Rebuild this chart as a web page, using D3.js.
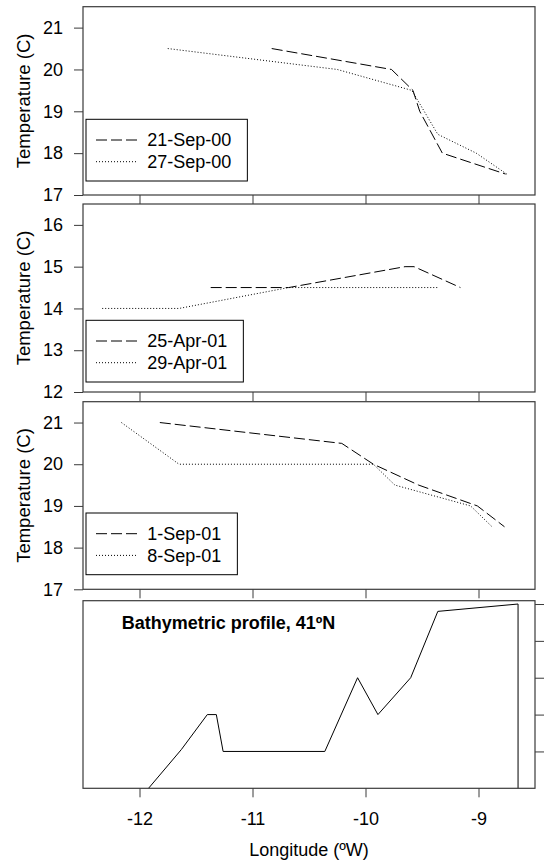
<!DOCTYPE html>
<html><head><meta charset="utf-8">
<script src="https://cdn.jsdelivr.net/npm/d3@7"></script>
<style>
body{margin:0;background:#fff}
svg{display:block}
text{font-family:"Liberation Sans",Arial,Helvetica,sans-serif;fill:#000}
</style>
</head><body>
<svg id="c" width="545" height="863"></svg>
<script>
// ---------- data ----------
const lonTicks = [-12, -11, -10, -9];
const tempTicksSep = [17, 18, 19, 20, 21];
const tempTicksApr = [12, 13, 14, 15, 16];
const depthTicks = [0, -1000, -2000, -3000, -4000];

const sep21_00_lon = [-10.83, -9.77, -9.58, -9.52, -9.32, -8.76];
const sep21_00_t   = [20.5, 20.0, 19.5, 19.0, 18.0, 17.5];
const sep27_00_lon = [-11.75, -10.25, -9.59, -9.36, -9.02, -8.75];
const sep27_00_t   = [20.5, 20.0, 19.5, 18.45, 18.0, 17.5];

const apr25_01_lon = [-11.37, -10.68, -9.65, -9.57, -9.16];
const apr25_01_t   = [14.5, 14.5, 15.0, 15.0, 14.5];
const apr29_01_lon = [-12.33, -11.65, -10.68, -9.36];
const apr29_01_t   = [14.0, 14.0, 14.5, 14.5];

const sep1_01_lon = [-11.82, -10.21, -9.93, -9.53, -9.01, -8.77];
const sep1_01_t   = [21.0, 20.5, 20.0, 19.5, 19.0, 18.5];
const sep8_01_lon = [-12.16, -11.65, -9.93, -9.74, -9.07, -8.88];
const sep8_01_t   = [21.0, 20.0, 20.0, 19.5, 19.0, 18.5];

const bathy_lon   = [-11.92, -11.63, -11.40, -11.32, -11.26, -10.36, -10.07, -9.89, -9.60, -9.36, -8.65, -8.65];
const bathy_depth = [-5000, -3950, -3000, -3000, -4000, -4000, -2000, -3000, -2000, -200, 0, -5000];

const legendLabels = [["21-Sep-00", "27-Sep-00"], ["25-Apr-01", "29-Apr-01"], ["1-Sep-01", "8-Sep-01"]];

// ---------- layout ----------
const svg = d3.select("#c");
const L = 83, R = 535;
const FS = 18;
const x = d3.scaleLinear().domain([-12.5, -8.5]).range([L, R]);
const zip = (a, b) => a.map((v, i) => [v, b[i]]);

const panels = [
  {top: 6.7, bottom: 195, dom: [17, 21.5], ticks: tempTicksSep,
   series: [zip(sep21_00_lon, sep21_00_t), zip(sep27_00_lon, sep27_00_t)],
   legend: {top: 119.3, labels: legendLabels[0]}},
  {top: 204, bottom: 392, dom: [12, 16.5], ticks: tempTicksApr,
   series: [zip(apr25_01_lon, apr25_01_t), zip(apr29_01_lon, apr29_01_t)],
   legend: {top: 320.3, labels: legendLabels[1]}},
  {top: 401.7, bottom: 589.3, dom: [17, 21.5], ticks: tempTicksSep,
   series: [zip(sep1_01_lon, sep1_01_t), zip(sep8_01_lon, sep8_01_t)],
   legend: {top: 513, labels: legendLabels[2]}}
];
const styles = [{dash: "11,4"}, {dash: "1,2"}];
const frameColor = "#3a3a3a";

function xTicks(g, bottom, labels) {
  const ax = d3.axisBottom(x).tickValues(lonTicks).tickSize(9).tickPadding(14.5)
    .tickFormat(labels ? (d => String(d)) : "");
  const a = g.append("g").attr("transform", `translate(0,${bottom})`).call(ax);
  a.select(".domain").remove();
  a.selectAll("line").attr("stroke", frameColor);
  a.selectAll("text").attr("font-size", FS).attr("font-family", null);
}

panels.forEach(p => {
  const g = svg.append("g");
  const y = d3.scaleLinear().domain(p.dom).range([p.bottom, p.top]);
  const ay = d3.axisLeft(y).tickValues(p.ticks).tickSize(9).tickPadding(11).tickFormat(d => String(d));
  const a = g.append("g").attr("transform", `translate(${L},0)`).call(ay);
  a.select(".domain").remove();
  a.selectAll("line").attr("stroke", frameColor);
  a.selectAll("text").attr("font-size", FS).attr("font-family", null);
  xTicks(g, p.bottom, false);

  const line = d3.line().x(d => x(d[0])).y(d => y(d[1]));
  p.series.forEach((s, i) => {
    g.append("path").attr("d", line(s)).attr("fill", "none")
      .attr("stroke", "#000").attr("stroke-width", 1).attr("stroke-dasharray", styles[i].dash);
  });

  g.append("rect").attr("x", L).attr("y", p.top).attr("width", R - L).attr("height", p.bottom - p.top)
    .attr("fill", "none").attr("stroke", frameColor).attr("stroke-width", 1.2);

  g.append("text").attr("transform", `translate(24,${(p.top + p.bottom) / 2}) rotate(-90)`)
    .attr("text-anchor", "middle").attr("dy", "0.35em").attr("font-size", 18.5).text("Temperature (C)");

  // legend
  const lg = g.append("g");
  const bx = 86, by = p.legend.top, bh = 61.7;
  const box = lg.append("rect").attr("x", bx).attr("y", by).attr("height", bh)
    .attr("fill", "#fff").attr("stroke", "#000").attr("stroke-width", 1);
  let maxW = 0;
  p.legend.labels.forEach((lab, i) => {
    const ry = by + 20.7 + i * 21.7;
    lg.append("line").attr("x1", 96).attr("x2", 137.3).attr("y1", ry).attr("y2", ry)
      .attr("stroke", "#000").attr("stroke-dasharray", styles[i].dash);
    const t = lg.append("text").attr("x", 147.3).attr("y", ry).attr("dy", "0.35em")
      .attr("font-size", FS).text(lab);
    maxW = Math.max(maxW, t.node().getComputedTextLength());
  });
  box.attr("width", 147.3 + maxW + 16 - bx);
});

// bathymetry panel
{
  const top = 600.7, bottom = 788.3;
  const g = svg.append("g");
  const y = d3.scaleLinear().domain([-5000, 90]).range([bottom, top]);
  const line = d3.line().x(d => x(d[0])).y(d => y(d[1]));
  g.append("path").attr("d", line(zip(bathy_lon, bathy_depth))).attr("fill", "none")
    .attr("stroke", "#000").attr("stroke-width", 1);
  g.append("rect").attr("x", L).attr("y", top).attr("width", R - L).attr("height", bottom - top)
    .attr("fill", "none").attr("stroke", frameColor).attr("stroke-width", 1.2);
  const ar = d3.axisRight(y).tickValues(depthTicks).tickSize(9).tickFormat("");
  const a = g.append("g").attr("transform", `translate(${R},0)`).call(ar);
  a.select(".domain").remove();
  a.selectAll("line").attr("stroke", frameColor);
  xTicks(g, bottom, true);
  g.append("text").attr("x", 121.7).attr("y", 622.7).attr("dy", "0.35em")
    .attr("font-size", FS).attr("font-weight", "bold").text("Bathymetric profile, 41ºN");
  g.append("text").attr("x", (L + R) / 2).attr("y", 850).attr("dy", "0.35em")
    .attr("text-anchor", "middle").attr("font-size", FS).text("Longitude (ºW)");
}
</script>
</body></html>
